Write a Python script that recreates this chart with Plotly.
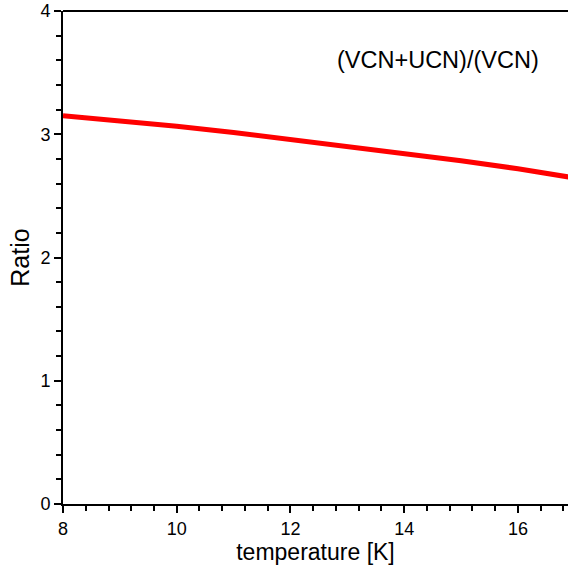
import plotly.graph_objects as go

# Ratio of (VCN+UCN) to VCN versus temperature
temperature = [8, 9, 10, 11, 12, 13, 14, 15, 16, 17]
ratio = [3.15, 3.11, 3.065, 3.015, 2.96, 2.905, 2.845, 2.785, 2.72, 2.645]

x_ticks = [8, 10, 12, 14, 16]
y_ticks = [0, 1, 2, 3, 4]

font_family = "Liberation Sans, Arial, sans-serif"

fig = go.Figure()
fig.add_trace(go.Scatter(
    x=temperature, y=ratio, mode="lines",
    line=dict(color="#ff0000", width=5),
    showlegend=False, hoverinfo="skip",
))

axis_common = dict(
    showgrid=False, zeroline=False,
    showline=True, linecolor="black", linewidth=2,
    ticks="outside", ticklen=7, tickwidth=1.5, tickcolor="black",
    tickfont=dict(family=font_family, size=18, color="black"),
)

fig.update_xaxes(
    range=[8, 16.88], tickvals=x_ticks,
    minor=dict(dtick=0.4, tick0=8, ticks="outside", ticklen=5, tickwidth=1.5, tickcolor="black"),
    title=dict(text="temperature [K]", font=dict(family=font_family, size=23, color="black"), standoff=4),
    **axis_common,
)
fig.update_yaxes(
    range=[0, 4], tickvals=y_ticks,
    minor=dict(dtick=0.2, tick0=0, ticks="outside", ticklen=5, tickwidth=1.5, tickcolor="black"),
    title=dict(text="Ratio", font=dict(family=font_family, size=25, color="black"), standoff=4),
    **axis_common,
)

# top frame line
fig.add_shape(type="line", xref="paper", yref="paper", x0=0, x1=1, y0=1, y1=1,
              line=dict(color="black", width=2))

fig.add_annotation(
    text="(VCN+UCN)/(VCN)", xref="paper", yref="paper",
    x=0.743, y=0.90, xanchor="center", yanchor="middle", showarrow=False,
    font=dict(family=font_family, size=23.5, color="black"),
)

fig.update_layout(
    width=568, height=569,
    margin=dict(l=63, r=0, t=11, b=65),
    paper_bgcolor="white", plot_bgcolor="white",
)

fig.write_html("out.html")
